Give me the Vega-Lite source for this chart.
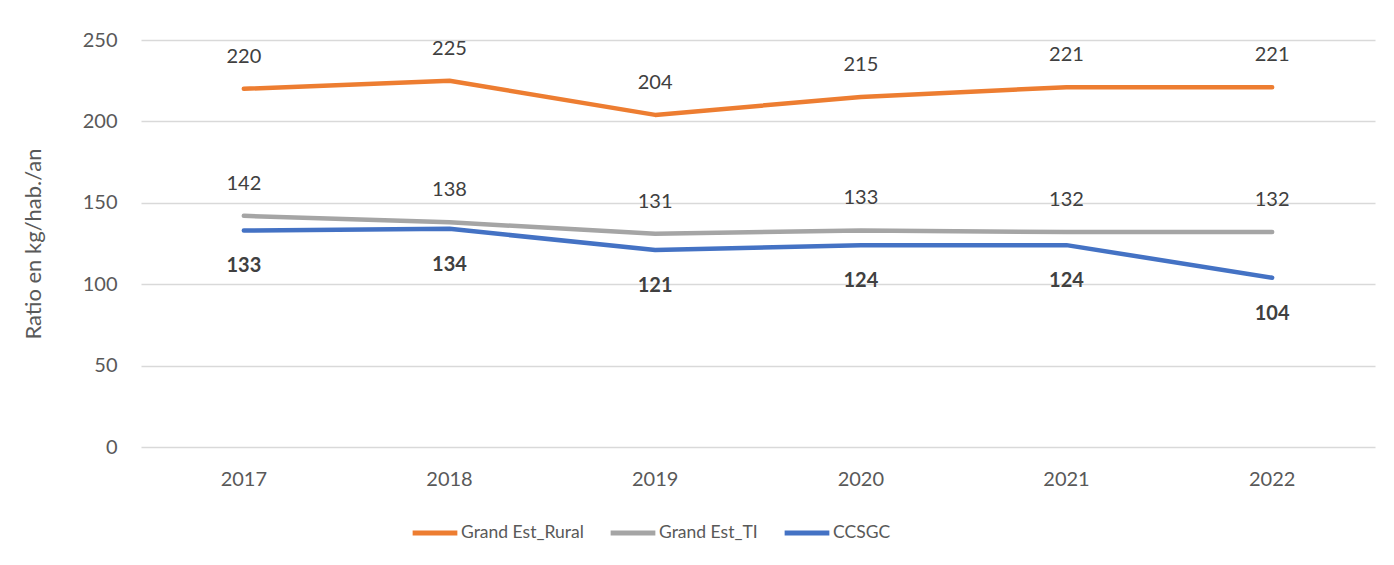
{
  "$schema": "https://vega.github.io/schema/vega-lite/v6.json",
  "width": 1234,
  "height": 407,
  "autosize": {"type": "none"},
  "padding": {"left": 141, "top": 40, "right": 19, "bottom": 118},
  "background": "white",
  "config": {
    "font": "Lato",
    "view": {"stroke": null},
    "axis": {"labelFont": "Lato", "titleFont": "Lato", "labelColor": "#595959", "titleColor": "#595959"}
  },
  "data": {
    "values": [
      {"year": "2017", "series": "Grand Est_Rural", "value": 220},
      {"year": "2018", "series": "Grand Est_Rural", "value": 225},
      {"year": "2019", "series": "Grand Est_Rural", "value": 204},
      {"year": "2020", "series": "Grand Est_Rural", "value": 215},
      {"year": "2021", "series": "Grand Est_Rural", "value": 221},
      {"year": "2022", "series": "Grand Est_Rural", "value": 221},
      {"year": "2017", "series": "Grand Est_TI", "value": 142},
      {"year": "2018", "series": "Grand Est_TI", "value": 138},
      {"year": "2019", "series": "Grand Est_TI", "value": 131},
      {"year": "2020", "series": "Grand Est_TI", "value": 133},
      {"year": "2021", "series": "Grand Est_TI", "value": 132},
      {"year": "2022", "series": "Grand Est_TI", "value": 132},
      {"year": "2017", "series": "CCSGC", "value": 133},
      {"year": "2018", "series": "CCSGC", "value": 134},
      {"year": "2019", "series": "CCSGC", "value": 121},
      {"year": "2020", "series": "CCSGC", "value": 124},
      {"year": "2021", "series": "CCSGC", "value": 124},
      {"year": "2022", "series": "CCSGC", "value": 104}
    ]
  },
  "encoding": {
    "x": {
      "field": "year", "type": "ordinal",
      "scale": {"type": "band", "paddingInner": 0, "paddingOuter": 0},
      "axis": {"title": null, "labelAngle": 0, "labelFontSize": 20, "labelPadding": 22, "ticks": false, "domain": false, "grid": false}
    },
    "y": {
      "field": "value", "type": "quantitative",
      "scale": {"domain": [0, 250], "nice": false},
      "axis": {"title": "Ratio en kg/hab./an", "titleFontSize": 22, "titleFontWeight": "normal", "titlePadding": 37, "values": [0, 50, 100, 150, 200, 250], "labelFontSize": 20, "labelPadding": 24, "ticks": false, "domain": false, "gridColor": "#d9d9d9", "gridWidth": 1.5}
    }
  },
  "layer": [
    {
      "mark": {"type": "line", "strokeWidth": 4.5, "strokeCap": "round", "strokeJoin": "round"},
      "encoding": {
        "color": {
          "field": "series", "type": "nominal",
          "scale": {"domain": ["Grand Est_Rural", "Grand Est_TI", "CCSGC"], "range": ["#ED7D31", "#A5A5A5", "#4472C4"]},
          "legend": {"title": null, "orient": "none", "legendX": 269, "legendY": 468, "direction": "horizontal", "symbolType": "stroke", "symbolSize": 2000, "symbolStrokeWidth": 5, "labelFontSize": 17.5, "labelColor": "#595959", "labelFont": "Lato", "labelOffset": 1, "columnPadding": 16}
        }
      }
    },
    {
      "transform": [{"filter": "datum.series !== 'CCSGC'"}],
      "mark": {"type": "text", "dy": -32, "fontSize": 20, "color": "#404040"},
      "encoding": {"text": {"field": "value", "type": "quantitative"}}
    },
    {
      "transform": [{"filter": "datum.series === 'CCSGC'"}],
      "mark": {"type": "text", "dy": 36, "fontSize": 20, "fontWeight": "bold", "color": "#404040"},
      "encoding": {"text": {"field": "value", "type": "quantitative"}}
    }
  ]
}
